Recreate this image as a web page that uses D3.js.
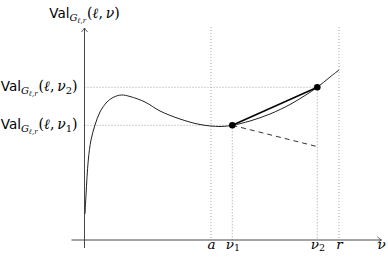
<!DOCTYPE html>
<html><head><meta charset="utf-8">
<script src="https://cdn.jsdelivr.net/npm/d3@7"></script>
<style>html,body{margin:0;padding:0;background:#fff;}svg{display:block;}
.ser{font-family:"DejaVu Serif","Liberation Serif",serif;}
.san{font-family:"DejaVu Sans","Liberation Sans",sans-serif;}
.it{font-style:italic;}
</style>
</head><body>
<script>
// ---- data (abstract units) ----
const curveX = [0.5,1.5,3.8,6.5,10.5,15.5,22.5,29.5,37,45.5,60.5,75.5,95.5,115.5,135.5,147.8,165.5,185.5,205.5,220.5,232.8,245.5,254.5];
const curveY = [26,45,80,100,115,128,138,143,145,143.5,138,129,121,115.5,113.5,114.7,119,126,135.5,144.5,152.7,163,170];
const tickNames = ["a","ν1","ν2","r"];
const tickValues = [126.5,147.8,232.8,254.5];
const nu1 = 147.8, nu2 = 232.8;
const val1 = 114.7, val2 = 152.7;
const dashEndY = 93.4;
const yLabels = ["1","2"];
const yValues = [val1, val2];

const W = 388, H = 263;
const svg = d3.select("body").append("svg").attr("width", W).attr("height", H);
const x = d3.scaleLinear().domain([0,300]).range([84.5,384.5]);
const y = d3.scaleLinear().domain([0,215]).range([240,25]);

const dotted = {stroke:"#999", "stroke-width":0.9, "stroke-dasharray":"1,2"};
function sty(sel, o){ for(const k in o) sel.attr(k,o[k]); return sel; }

// dotted guides
[tickValues[0], tickValues[3]].forEach(v => {
  sty(svg.append("line").attr("x1",x(v)).attr("x2",x(v)).attr("y1",y(213)).attr("y2",y(0)), dotted);
});
sty(svg.append("line").attr("x1",x(nu1)).attr("x2",x(nu1)).attr("y1",y(val1)).attr("y2",y(0)), dotted);
sty(svg.append("line").attr("x1",x(nu2)).attr("x2",x(nu2)).attr("y1",y(val2)).attr("y2",y(0)), dotted);
sty(svg.append("line").attr("x1",x(0)).attr("x2",x(nu1)).attr("y1",y(val1)).attr("y2",y(val1)), dotted);
sty(svg.append("line").attr("x1",x(0)).attr("x2",x(nu2)).attr("y1",y(val2)).attr("y2",y(val2)), dotted);

// axes
const axisCol = "#333";
svg.append("line").attr("x1",x(-13)).attr("x2",x(297)).attr("y1",y(0)).attr("y2",y(0)).attr("stroke",axisCol).attr("stroke-width",0.9);
svg.append("line").attr("x1",x(0)).attr("x2",x(0)).attr("y1",y(-8)).attr("y2",y(212)).attr("stroke",axisCol).attr("stroke-width",0.9);
svg.append("path").attr("d",`M${x(297)-4},${y(0)-3} Q${x(297)-1.5},${y(0)-0.8} ${x(297)},${y(0)} Q${x(297)-1.5},${y(0)+0.8} ${x(297)-4},${y(0)+3}`)
  .attr("fill","none").attr("stroke",axisCol).attr("stroke-width",0.8);
svg.append("path").attr("d",`M${x(0)-3},${y(212)+4} Q${x(0)-0.8},${y(212)+1.5} ${x(0)},${y(212)} Q${x(0)+0.8},${y(212)+1.5} ${x(0)+3},${y(212)+4}`)
  .attr("fill","none").attr("stroke",axisCol).attr("stroke-width",0.8);

// curve
const pts = curveX.map((v,i)=>[v,curveY[i]]);
svg.append("path").datum(pts)
  .attr("d", d3.line().x(d=>x(d[0])).y(d=>y(d[1])).curve(d3.curveCatmullRom.alpha(0.5)))
  .attr("fill","none").attr("stroke","#222").attr("stroke-width",1);

svg.append("line").attr("x1",x(nu1)).attr("y1",y(val1)).attr("x2",x(nu2)).attr("y2",y(dashEndY))
  .attr("stroke","#333").attr("stroke-width",1).attr("stroke-dasharray","5,4");
svg.append("line").attr("x1",x(nu1)).attr("y1",y(val1)).attr("x2",x(nu2)).attr("y2",y(val2))
  .attr("stroke","#000").attr("stroke-width",1.5);
[[nu1,val1],[nu2,val2]].forEach(d=>{
  svg.append("circle").attr("cx",x(d[0])).attr("cy",y(d[1])).attr("r",3.3).attr("fill","#000");
});

// x axis tick labels via d3 axis
const ax = d3.axisBottom(x).tickValues(tickValues).tickSize(0).tickFormat("");
const gx = svg.append("g").attr("transform",`translate(0,${y(0)})`).call(ax);
gx.select(".domain").remove();
gx.attr("font-family",null).attr("font-size",null);
gx.selectAll(".tick").each(function(d,i){
  const name = tickNames[i];
  const t = d3.select(this).append("text").attr("class","ser").attr("y",8.5).attr("fill","#000")
    .style("font-size","13.5px").attr("text-anchor","middle");
  t.append("tspan").attr("class","ser it").text(name[0]);
  if (name.length>1){ t.append("tspan").attr("class","ser").style("font-size","9.5px").attr("dy",2.5).text(name.slice(1)); }
});
svg.append("text").attr("class","ser it").attr("x",381.5).attr("y",248.5).attr("text-anchor","middle")
  .style("font-size","13.5px").text("ν");

// Val labels
function valLabel(t, sub){
  t.append("tspan").attr("class","san").style("font-size","13.5px").text("Val");
  t.append("tspan").attr("class","ser it").style("font-size","10px").attr("dy",3).text("G");
  t.append("tspan").attr("class","ser it").style("font-size","7px").attr("dy",1.8).text("ℓ,r");
  t.append("tspan").attr("class","ser").style("font-size","14px").attr("dy",-4.8).attr("dx",1).text("(");
  t.append("tspan").attr("class","ser it").style("font-size","14px").text("ℓ");
  t.append("tspan").attr("class","ser").style("font-size","14px").text(",\u2009");
  t.append("tspan").attr("class","ser it").style("font-size","14px").text("ν");
  if (sub){
    t.append("tspan").attr("class","ser").style("font-size","10px").attr("dy",2.5).text(sub);
    t.append("tspan").attr("class","ser").style("font-size","14px").attr("dy",-2.5).text(")");
  } else {
    t.append("tspan").attr("class","ser").style("font-size","14px").text(")");
  }
}
valLabel(svg.append("text").attr("x",x(0)).attr("y",18).attr("text-anchor","middle").attr("fill","#000"), null);
yValues.forEach((v,i)=>{
  valLabel(svg.append("text").attr("x",77.5).attr("y",y(v)+3.8).attr("text-anchor","end").attr("fill","#000"), yLabels[i]);
});
</script>
</body></html>
